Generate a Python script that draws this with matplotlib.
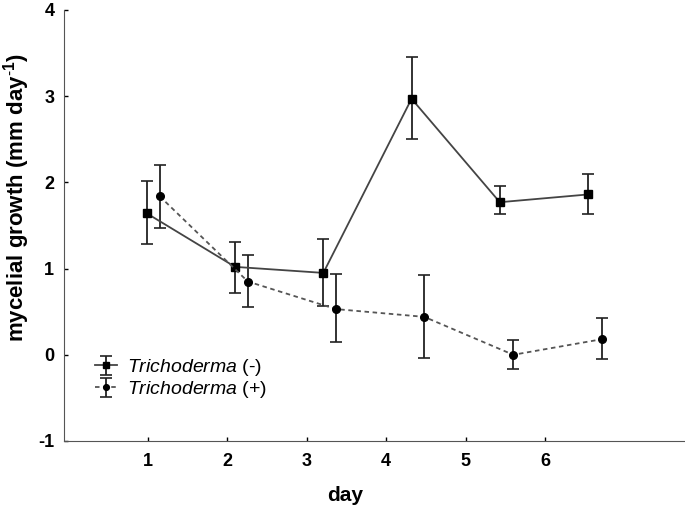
import matplotlib
matplotlib.use("Agg")
import matplotlib.pyplot as plt

plt.rcParams['font.family'] = ['Liberation Sans', 'DejaVu Sans']
plt.rcParams['mathtext.fontset'] = 'custom'
plt.rcParams['mathtext.it'] = 'Liberation Sans:italic'
plt.rcParams['mathtext.rm'] = 'Liberation Sans'
plt.rcParams['mathtext.bf'] = 'Liberation Sans:bold'
plt.rcParams['axes.unicode_minus'] = False

# positions as drawn (points sit slightly off the day ticks)
x_minus = [0.99, 2.10, 3.21, 4.32, 5.43, 6.54]
x_plus = [1.15, 2.26, 3.37, 4.48, 5.60, 6.71]

# Trichoderma (-)
y_minus = [1.64, 1.02, 0.95, 2.97, 1.77, 1.86]
lo_minus = [1.29, 0.72, 0.57, 2.50, 1.63, 1.63]
hi_minus = [2.02, 1.31, 1.34, 3.46, 1.96, 2.10]

# Trichoderma (+)
y_plus = [1.84, 0.85, 0.53, 0.44, 0.00, 0.18]
lo_plus = [1.47, 0.55, 0.15, -0.04, -0.17, -0.05]
hi_plus = [2.20, 1.16, 0.94, 0.92, 0.17, 0.43]

days = [1, 2, 3, 4, 5, 6]
yticks = [-1, 0, 1, 2, 3, 4]

fig = plt.figure(figsize=(6.85, 5.09), dpi=100)
ax = fig.add_axes([0.0934, 0.1336, 0.9066, 0.8468])

err_m = [[y - l for y, l in zip(y_minus, lo_minus)], [h - y for y, h in zip(y_minus, hi_minus)]]
err_p = [[y - l for y, l in zip(y_plus, lo_plus)], [h - y for y, h in zip(y_plus, hi_plus)]]

ax.errorbar(x_minus, y_minus, yerr=err_m, fmt='s-', color='#444444', mfc='black', mec='black',
            ms=6, lw=1.3, ecolor='#222222', elinewidth=1.3, capsize=4, capthick=1.2,
            label=r'$\it{Trichoderma}$ (-)')
ax.errorbar(x_plus, y_plus, yerr=err_p, fmt='o', ls=(0, (2.5, 2)), color='#555555', mfc='black', mec='black',
            ms=5.5, lw=1.3, ecolor='#222222', elinewidth=1.3, capsize=4, capthick=1.2,
            label=r'$\it{Trichoderma}$ (+)')

ax.set_xlim(-0.053, 7.76)
ax.set_ylim(-1, 4)
ax.set_xticks(days)
ax.set_yticks(yticks)
ax.tick_params(direction='in', length=3, width=1, labelsize=13)
ax.tick_params(axis='x', pad=9)
ax.tick_params(axis='y', pad=7)
for lab in ax.get_xticklabels() + ax.get_yticklabels():
    lab.set_fontweight('bold')
ax.spines['top'].set_visible(False)
ax.spines['right'].set_visible(False)
ax.spines['left'].set_color('#555555')
ax.spines['bottom'].set_color('#555555')

ax.set_xlabel('day', fontsize=15, fontweight='bold')
ax.set_ylabel(r'mycelial growth (mm day$^{\mathbf{\text{-}1}}$)', fontsize=16, fontweight='bold')
ax.xaxis.set_label_coords(0.452, -0.105)
ax.yaxis.set_label_coords(-0.0515, 0.564)

ax.legend(loc='upper left', bbox_to_anchor=(0.035, 0.217), frameon=False, fontsize=14,
          handlelength=1.1, handletextpad=0.5, labelspacing=0.05, markerscale=0.75, borderpad=0)

fig.savefig('out.png', dpi=100)
